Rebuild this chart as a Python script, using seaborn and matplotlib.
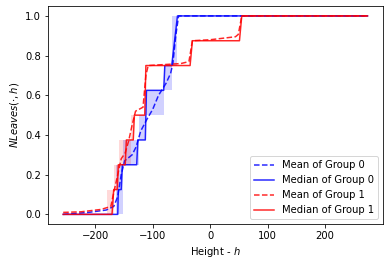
import numpy as np
import pandas as pd
import matplotlib
matplotlib.use("Agg")
import matplotlib.pyplot as plt
import seaborn as sns

# ---- data ----
# Group 0 mean
mean0_x = [-256, -212, -181, -168, -161, -155, -149, -136, -129, -121, -110, -100, -90, -77, -69, -65, -60, -55, 274]
mean0_y = [0.0, 0.01, 0.022, 0.04, 0.09, 0.2, 0.27, 0.30, 0.34, 0.42, 0.48, 0.53, 0.60, 0.66, 0.71, 0.76, 0.90, 1.0, 1.0]
# Group 0 median
med0_x = [-256, -161, -160, -155, -153, -128, -126, -113, -111, -81, -79, -67, -57, 274]
med0_y = [0.0, 0.0, 0.125, 0.125, 0.25, 0.25, 0.375, 0.375, 0.625, 0.625, 0.75, 0.75, 1.0, 1.0]
# Group 1 mean
mean1_x = [-256, -225, -190, -173, -168, -161, -155, -148, -142, -136, -130, -117, -112, -108, -51, -37, -31, 0, 44, 49, 55, 274]
mean1_y = [0.01, 0.013, 0.025, 0.04, 0.11, 0.2, 0.28, 0.31, 0.37, 0.45, 0.52, 0.54, 0.70, 0.75, 0.76, 0.77, 0.875, 0.88, 0.895, 0.907, 1.0, 1.0]
# Group 1 median
med1_x = [-256, -171, -168, -162, -160, -148, -146, -134, -132, -114, -112, -35, -31, 51, 55, 274]
med1_y = [0.0, 0.0, 0.125, 0.125, 0.25, 0.25, 0.375, 0.375, 0.5, 0.5, 0.75, 0.75, 0.875, 0.875, 1.0, 1.0]

# quantile bands (step functions)
band0_x = [-256, -164, -152, -124, -112, -81, -66, -57, 274]
band0_lo = [0.0, 0.0, 0.25, 0.375, 0.5, 0.625, 0.75, 1.0, 1.0]
band0_hi = [0.0, 0.25, 0.375, 0.5, 0.625, 0.75, 1.0, 1.0, 1.0]
band1_x = [-256, -179, -168, -159, -138, -133, 274]
band1_lo = [0.0, 0.0, 0.125, 0.25, 0.375, 0.5, 1.0]
band1_hi = [0.0, 0.125, 0.25, 0.375, 0.5, 0.5, 1.0]
band1_lo[-1] = 0.5

fig = plt.figure(figsize=(389 / 72, 266 / 72), dpi=72)
ax = fig.add_axes([48 / 389, 1 - 224.3 / 266, (382.7 - 48) / 389, (224.3 - 6) / 266])

ax.fill_between(band0_x, band0_lo, band0_hi, step="post", color="blue", alpha=0.18, linewidth=0)
ax.fill_between(band1_x[:-1], band1_lo[:-1], band1_hi[:-1], step="post", color="red", alpha=0.15, linewidth=0)

sns.lineplot(x=mean0_x, y=mean0_y, ax=ax, color="blue", linestyle="--", alpha=0.85,
             linewidth=1.5, label="Mean of Group 0", estimator=None, sort=False)
sns.lineplot(x=med0_x, y=med0_y, ax=ax, color="blue", linestyle="-", alpha=0.85,
             linewidth=1.5, label="Median of Group 0", estimator=None, sort=False)
sns.lineplot(x=mean1_x, y=mean1_y, ax=ax, color="red", linestyle="--", alpha=0.85,
             linewidth=1.5, label="Mean of Group 1", estimator=None, sort=False)
sns.lineplot(x=med1_x, y=med1_y, ax=ax, color="red", linestyle="-", alpha=0.85,
             linewidth=1.5, label="Median of Group 1", estimator=None, sort=False)

ax.set_xlim(-282.5, 300.5)
ax.set_ylim(-0.05, 1.05)
ax.set_xticks([-200, -100, 0, 100, 200])
ax.set_yticks([0.0, 0.2, 0.4, 0.6, 0.8, 1.0])
ax.set_xlabel("Height - $h$", fontsize=10)
ax.set_ylabel(r"$NLeaves(\cdot, h)$", fontsize=10)
ax.tick_params(labelsize=10)
ax.legend(loc="lower right", fontsize=10)

fig.savefig("out.png", dpi=72)
